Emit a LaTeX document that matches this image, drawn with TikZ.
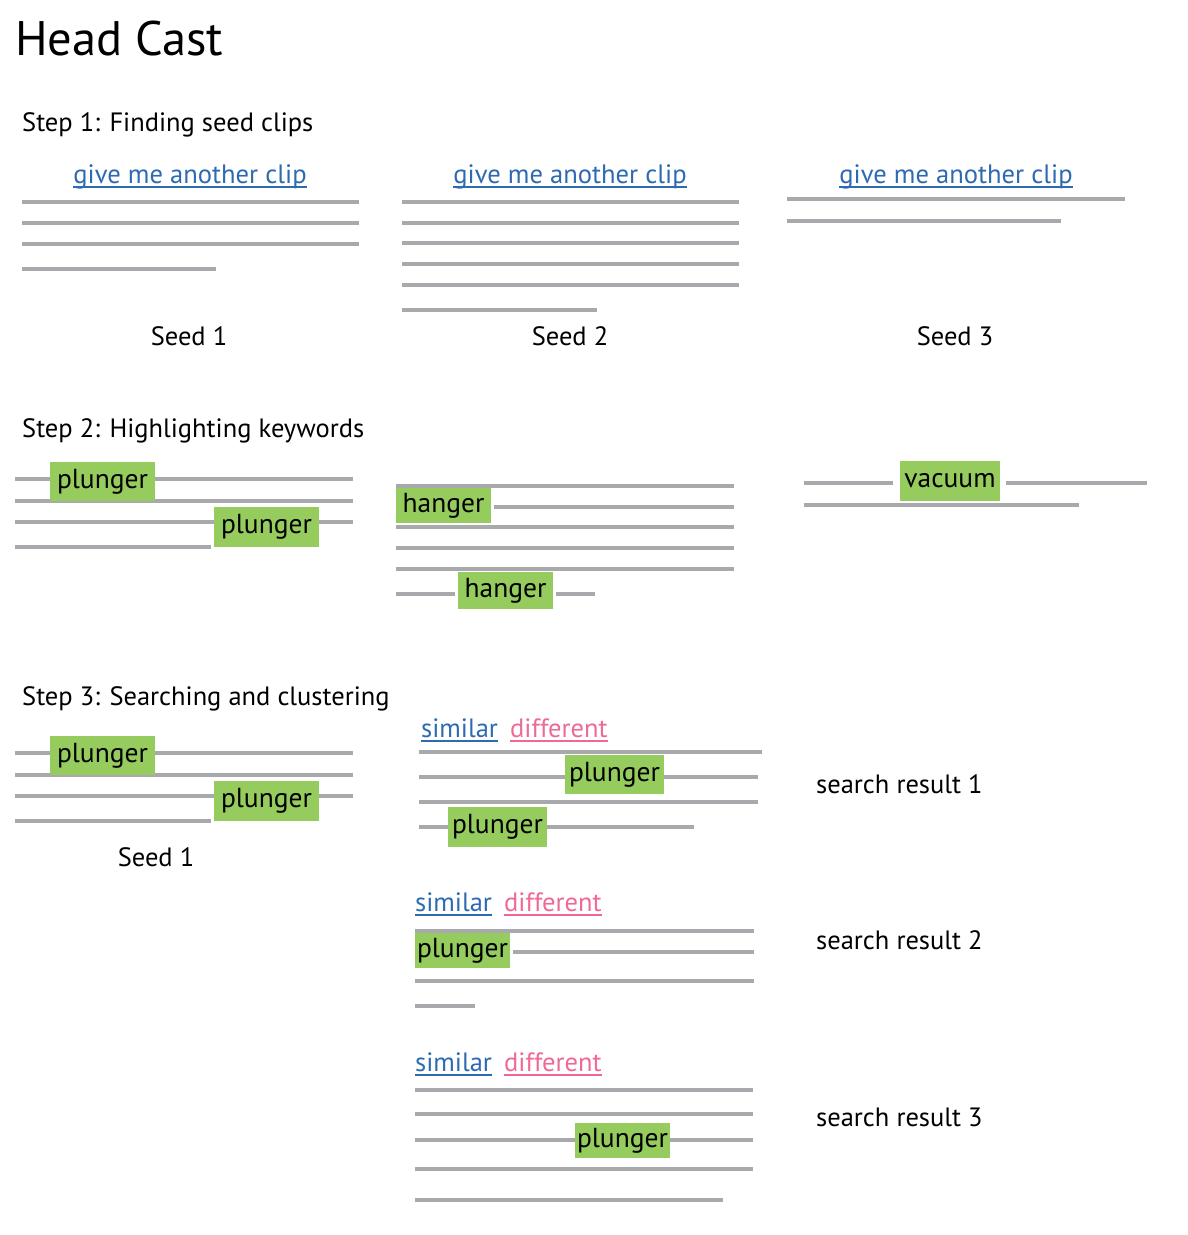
\documentclass[tikz,border=0pt]{standalone}
\usepackage{fontspec}
\setmainfont{PT Sans}

\definecolor{linegray}{HTML}{A7A9AC}
\definecolor{kwgreen}{HTML}{96CC5E}
\definecolor{simblue}{HTML}{2E6AB1}
\definecolor{diffpink}{HTML}{EE6A95}

\tikzset{
  gl/.style={linegray, line width=4},
  lbl/.style={inner sep=0, font=\fontsize{26.5}{30}\selectfont},
  kw/.style={fill=kwgreen, inner sep=0, font=\fontsize{27.5}{30}\selectfont},
  lnk/.style={lbl, anchor=base west},
  uline/.style={line width=1.6}
}

\begin{document}
\begin{tikzpicture}[x=1pt,y=-1pt]
   \useasboundingbox (0,0) rectangle (1188,1235);

   \node[lbl, anchor=base west, font=\fontsize{48.5}{52}\selectfont] (title) at (15,55) {Head Cast};

   % step 1
   \node[lbl, anchor=base west] (st1) at (22,131) {Step 1: Finding seed clips};

   \node[lbl, anchor=base, text=simblue, font=\fontsize{26.6}{30}\selectfont] (g1) at (190,183) {give me another clip};
   \node[lbl, anchor=base, text=simblue, font=\fontsize{26.6}{30}\selectfont] (g2) at (570,183) {give me another clip};
   \node[lbl, anchor=base, text=simblue, font=\fontsize{26.6}{30}\selectfont] (g3) at (956,183) {give me another clip};
   \draw[simblue, uline] ([yshift=-4]g1.base west) -- ([yshift=-4]g1.base east);
   \draw[simblue, uline] ([yshift=-4]g2.base west) -- ([yshift=-4]g2.base east);
   \draw[simblue, uline] ([yshift=-4]g3.base west) -- ([yshift=-4]g3.base east);

   \foreach \y in {202,223,244} \draw[gl] (22,\y) -- (359,\y);
   \draw[gl] (22,269) -- (216,269);

   \foreach \y in {202,223,243,264,285} \draw[gl] (402,\y) -- (739,\y);
   \draw[gl] (402,310) -- (597,310);

   \draw[gl] (787,199) -- (1125,199);
   \draw[gl] (787,221) -- (1061,221);

   \node[lbl, anchor=base] (seed1) at (189,345) {Seed 1};
   \node[lbl, anchor=base] (seed2) at (570,345) {Seed 2};
   \node[lbl, anchor=base] (seed3) at (955,345) {Seed 3};

   % step 2
   \node[lbl, anchor=base west] (st2) at (22,437) {Step 2: Highlighting keywords};

   \draw[gl] (15,479) -- (353,479);
   \draw[gl] (15,501) -- (353,501);
   \draw[gl] (15,522) -- (353,522);
   \draw[gl] (15,547) -- (211,547);
   \node[kw, minimum width=105, minimum height=39] (p1) at (102.5,481.5) {plunger};
   \node[kw, minimum width=105, minimum height=40] (p2) at (266.5,527) {plunger};

   \draw[gl] (396,486) -- (734,486);
   \draw[gl] (494,507) -- (734,507);
   \draw[gl] (396,527) -- (734,527);
   \draw[gl] (396,548) -- (734,548);
   \draw[gl] (396,569) -- (734,569);
   \node[kw, minimum width=95, minimum height=35] (h1) at (443.5,505.5) {hanger};
   \node[kw, minimum width=95, minimum height=37] (h2) at (505.5,590.5) {hanger};
   \draw[gl] (396,594) -- (455,594);
   \draw[gl] (556,594) -- (595,594);

   \node[kw, minimum width=100, minimum height=40] (v1) at (950,481) {vacuum};
   \draw[gl] (804,483) -- (893,483);
   \draw[gl] (1006,483) -- (1147,483);
   \draw[gl] (804,505) -- (1079,505);

   % step 3
   \node[lbl, anchor=base west] (st3) at (22,705) {Step 3: Searching and clustering};

   \draw[gl] (15,753) -- (353,753);
   \draw[gl] (15,775) -- (353,775);
   \draw[gl] (15,796) -- (353,796);
   \draw[gl] (15,821) -- (211,821);
   \node[kw, minimum width=105, minimum height=39] (sp1) at (102.5,755.5) {plunger};
   \node[kw, minimum width=105, minimum height=40] (sp2) at (266.5,801) {plunger};
   \node[lbl, anchor=base] (seed1b) at (156,866) {Seed 1};

   % result 1
   \node[lnk, text=simblue] (s1) at (421,737) {similar};
   \node[lnk, text=diffpink] (d1) at (510,737) {different};
   \draw[simblue, uline] ([yshift=-4]s1.base west) -- ([yshift=-4]s1.base east);
   \draw[diffpink, uline] ([yshift=-4]d1.base west) -- ([yshift=-4]d1.base east);
   \draw[gl] (419,752) -- (762,752);
   \draw[gl] (419,777) -- (758,777);
   \draw[gl] (419,802) -- (758,802);
   \draw[gl] (419,827) -- (694,827);
   \node[kw, minimum width=99, minimum height=39] (r1a) at (614.5,774.5) {plunger};
   \node[kw, minimum width=99, minimum height=40] (r1b) at (497.5,827) {plunger};
   \node[lbl, anchor=base west] (res1) at (816,793) {search result 1};

   % result 2
   \node[lnk, text=simblue] (s2) at (415,911) {similar};
   \node[lnk, text=diffpink] (d2) at (504,911) {different};
   \draw[simblue, uline] ([yshift=-4]s2.base west) -- ([yshift=-4]s2.base east);
   \draw[diffpink, uline] ([yshift=-4]d2.base west) -- ([yshift=-4]d2.base east);
   \draw[gl] (415,931) -- (754,931);
   \draw[gl] (513,952) -- (754,952);
   \draw[gl] (415,981) -- (754,981);
   \draw[gl] (415,1006) -- (475,1006);
   \node[kw, minimum width=95, minimum height=35] (r2a) at (462.5,950.5) {plunger};
   \node[lbl, anchor=base west] (res2) at (816,949) {search result 2};

   % result 3
   \node[lnk, text=simblue] (s3) at (415,1071) {similar};
   \node[lnk, text=diffpink] (d3) at (504,1071) {different};
   \draw[simblue, uline] ([yshift=-4]s3.base west) -- ([yshift=-4]s3.base east);
   \draw[diffpink, uline] ([yshift=-4]d3.base west) -- ([yshift=-4]d3.base east);
   \draw[gl] (415,1090) -- (753,1090);
   \draw[gl] (415,1114) -- (753,1114);
   \draw[gl] (415,1140) -- (753,1140);
   \draw[gl] (415,1169) -- (753,1169);
   \draw[gl] (415,1200) -- (723,1200);
   \node[kw, minimum width=95, minimum height=35] (r3a) at (622.5,1140.5) {plunger};
   \node[lbl, anchor=base west] (res3) at (816,1126) {search result 3};
\end{tikzpicture}
\end{document}
